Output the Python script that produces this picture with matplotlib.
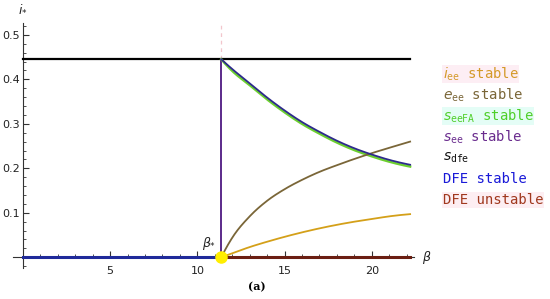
import matplotlib
matplotlib.use("Agg")
import matplotlib.pyplot as plt
from matplotlib.ticker import MultipleLocator
import numpy as np

# data
beta_star = 11.37
s_dfe = 0.445
beta = [11.37, 12, 13, 14, 15, 16, 17, 18, 19, 20, 21, 22.2]
i_ee = [0.0, 0.009, 0.023, 0.035, 0.046, 0.056, 0.065, 0.073, 0.080, 0.086, 0.092, 0.097]
e_ee = [0.0, 0.044, 0.092, 0.127, 0.153, 0.174, 0.192, 0.207, 0.221, 0.234, 0.246, 0.260]
s_ee = [0.445, 0.423, 0.391, 0.359, 0.330, 0.304, 0.282, 0.262, 0.245, 0.231, 0.219, 0.208]
s_eeFA = [0.445, 0.419, 0.387, 0.355, 0.326, 0.300, 0.278, 0.258, 0.241, 0.227, 0.215, 0.204]
x_end = 22.2

legend_labels = [r'$i_{\mathtt{ee}}$ stable', r'$e_{\mathtt{ee}}$ stable',
                 r'$s_{\mathtt{eeFA}}$ stable', r'$s_{\mathtt{ee}}$ stable',
                 r'$s_{\mathtt{dfe}}$', 'DFE stable', 'DFE unstable']
legend_colors = ['#d49a2a', '#7a6638', '#4fcf2a', '#6a2c8e', '#111111', '#1a1ad8', '#a0381e']
legend_bg = ['#fdeef4', None, '#e4fdf6', None, None, None, '#fdeef2']


def smooth(x, y, n=300):
    # cubic hermite through the read points
    x = np.asarray(x, float)
    y = np.asarray(y, float)
    d = np.gradient(y, x, edge_order=2)
    xs = np.linspace(x[0], x[-1], n)
    k = np.clip(np.searchsorted(x, xs) - 1, 0, len(x) - 2)
    h = x[k + 1] - x[k]
    t = (xs - x[k]) / h
    h00 = 2 * t**3 - 3 * t**2 + 1
    h10 = t**3 - 2 * t**2 + t
    h01 = -2 * t**3 + 3 * t**2
    h11 = t**3 - t**2
    return xs, h00 * y[k] + h10 * h * d[k] + h01 * y[k + 1] + h11 * h * d[k + 1]


fig = plt.figure(figsize=(5.5, 2.99), dpi=100)
ax = fig.add_axes([13.4 / 550, 0.1023, (413.6 - 13.4) / 550, 0.8214])

ax.plot([0, x_end], [s_dfe, s_dfe], color='black', lw=1.6, zorder=3)
ax.plot([0, beta_star], [0, 0], color='#1f2a9a', lw=2.2, zorder=4)
ax.plot([beta_star, x_end], [0, 0], color='#6b1e12', lw=2.2, zorder=4)
ax.plot([beta_star, beta_star], [0, s_dfe], color='#5b2a8a', lw=1.4, zorder=3)
ax.plot([beta_star, beta_star], [s_dfe, 0.53], color='#f2c6cc', lw=0.9, ls=(0, (3, 3)), zorder=2)
ax.plot(*smooth(beta, s_eeFA), color='#6ccf2f', lw=1.8, zorder=3)
ax.plot(*smooth(beta, s_ee), color='#2d2a8c', lw=1.3, zorder=4)
ax.plot(*smooth(beta, e_ee), color='#7a6638', lw=1.3, zorder=3)
ax.plot(*smooth(beta, i_ee), color='#d4a019', lw=1.3, zorder=3)
ax.plot([beta_star], [0], 'o', color='#ffee00', ms=8, zorder=5)

ax.set_xlim(-0.55, 22.4)
ax.set_ylim(-0.025, 0.527)
for s in ['top', 'right']:
    ax.spines[s].set_visible(False)
ax.spines['left'].set_position(('data', 0))
ax.spines['bottom'].set_position(('data', 0))
ax.spines['left'].set_color('#333333')
ax.spines['bottom'].set_color('#333333')

ax.xaxis.set_minor_locator(MultipleLocator(1))
ax.yaxis.set_minor_locator(MultipleLocator(0.02))
ax.set_xticks([5, 10, 15, 20])
ax.set_yticks([0.1, 0.2, 0.3, 0.4, 0.5])
ax.tick_params(which='both', direction='in', colors='#333333', labelsize=8, labelcolor='#222222')
ax.tick_params(which='major', length=4, width=0.8)
ax.tick_params(which='minor', length=2.5, width=0.6)
ax.tick_params(axis='x', pad=6)
ax.tick_params(axis='y', pad=2)

ax.text(0.0, 0.545, r'$i_{*}$', fontsize=9, ha='center', va='bottom', color='#222222')
ax.text(22.9, 0.0, r'$\beta$', fontsize=9, ha='left', va='center', color='#222222')
ax.text(beta_star - 0.3, 0.012, r'$\beta_{*}$', fontsize=9, ha='right', va='bottom', color='#222222')
fig.text(257 / 550, 1 - 287 / 299, '(a)', fontsize=8, fontweight='bold',
         family='DejaVu Serif', ha='center', va='center')

y0 = 1 - 74 / 299
for k, (lab, c, bg) in enumerate(zip(legend_labels, legend_colors, legend_bg)):
    kw = {}
    if bg:
        kw['bbox'] = dict(boxstyle='square,pad=0.05', fc=bg, ec='none')
    fig.text(443 / 550, y0 - k * 21 / 299, lab, color=c, fontsize=10,
             family='DejaVu Sans Mono', ha='left', va='center', **kw)

fig.savefig('out.png', dpi=100)
